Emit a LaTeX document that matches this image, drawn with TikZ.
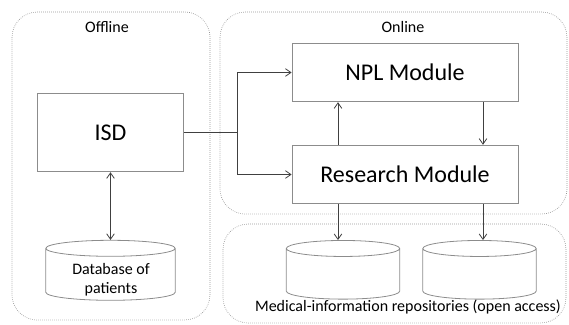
\documentclass[tikz,border=0pt]{standalone}
\usepackage{fontspec}
\setmainfont{Carlito}
\usetikzlibrary{arrows.meta, calc, positioning, shapes.geometric}
\definecolor{boxgray}{RGB}{140,140,140}
\definecolor{zonegray}{RGB}{150,150,150}
\definecolor{arrowgray}{RGB}{64,64,64}

\tikzset{
  zone/.style={draw=zonegray, densely dotted, line width=0.5pt, rounded corners=19pt},
  module/.style={draw=boxgray, line width=0.6pt, fill=white, inner sep=0pt,
    font=\fontsize{18}{22}\selectfont},
  store/.style={cylinder, shape border rotate=90, aspect=0.15, draw=boxgray,
    line width=0.6pt, inner sep=0pt, text width=80pt},
  flow/.style={draw=arrowgray, line width=0.6pt, -{Straight Barb[angle=70:5pt]}},
}

\begin{document}
\begin{tikzpicture}[x=0.75pt, y=-0.75pt, font=\large]
\useasboundingbox (0,0) rectangle (569,325);
% zones
\draw[zone] (12,12) rectangle (210,320);
\draw[zone] (220,12) rectangle (567,214);
\draw[zone] (223,224) rectangle (566,323);
\node (offlbl) at (107,27) {Offline};
\node (onlbl) at (403,27) {Online};
\node (replbl) at (408,307) {Medical-information repositories (open access)};
% LEFT: Offline
\node[module, minimum width=110pt, minimum height=59pt] (isd) at (110.5,132.5) {ISD};
\node[store, minimum width=97pt, minimum height=45pt] (patdb) at (110.5,274.5) {};
\node[align=center, inner sep=0pt] (patdbtxt) at (111,280) {Database of\\patients};
\draw[flow, {Straight Barb[angle=70:5pt]}-{Straight Barb[angle=70:5pt]}] (isd.south) -- (patdb.north);
% RIGHT: Online
\node[module, minimum width=169.5pt, minimum height=44pt] (npl) at (405,72.5) {NPL Module};
\node[module, minimum width=169.5pt, minimum height=44pt] (res) at (405,174.5) {Research Module};
\coordinate (fork) at (237,132.5);
\draw[draw=arrowgray, line width=0.6pt] (isd.east) -- (fork);
\draw[flow] (fork) |- (npl.west);
\draw[flow] (fork) |- (res.west);
\draw[flow] (res.north -| 338,0) -- (npl.south -| 338,0);
\draw[flow] (npl.south -| 483,0) -- (res.north -| 483,0);
% repositories
\node[store, minimum width=85pt, minimum height=44pt] (repo1) at (343,274) {};
\node[store, minimum width=85pt, minimum height=44pt] (repo2) at (479.5,274) {};
\draw[flow] (res.south -| 338,0) -- (repo1.north -| 338,0);
\draw[flow] (res.south -| 483,0) -- (repo2.north -| 483,0);
\end{tikzpicture}
\end{document}
